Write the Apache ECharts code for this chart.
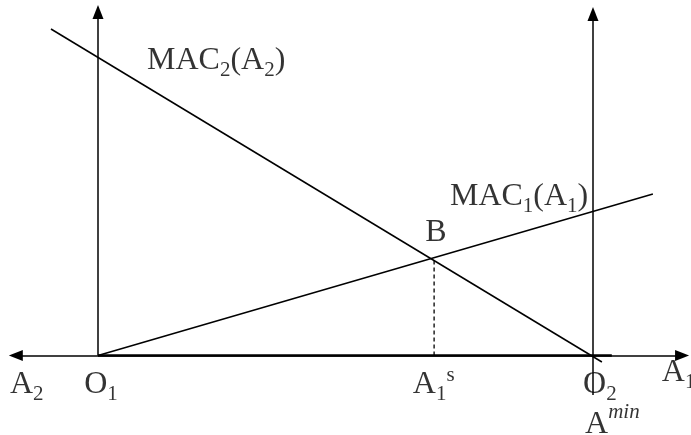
<!DOCTYPE html>
<html>
<head>
<meta charset="utf-8">
<script src="https://cdn.jsdelivr.net/npm/echarts@6/dist/echarts.min.js"></script>
<style>
  html, body { margin: 0; padding: 0; background: #fff; }
  #chart { width: 691px; height: 435px; }
</style>
</head>
<body>
<div id="chart"></div>
<script>
// O1 sits at x = 0, O2 (A min) at x = 100, the A axis at y = 0
const mac1Line = [[0, 0], [112.1, 32.3]];
const mac2Line = [[-9.5, 65.3], [101.8, -1.3]];
const pointB = [67.9, 19.3];
const o2X = 100;
const horizAxisEnds = [-16.6, 118.0];
const thickSegment = [0, 103.8];
const leftAxisTop = 68.7;
const rightAxisTop = 68.3;
const rightAxisBottom = -7.9;

const labelTexts = [
  "{t|MAC}{sub|2}{t|(A}{sub|2}{t|)}",
  "{t|MAC}{sub|1}{t|(A}{sub|1}{t|)}",
  "{t|B}",
  "{t|A}{sub|2}",
  "{t|O}{sub|1}",
  "{t|A}{sub|1}{sup|s}",
  "{t|O}{sub|2}",
  "{tb|A}{it|min}",
  "{t|A}{sub|1}",
];
const labelAnchors = [
  [9.9, 58.9],
  [71.1, 31.7],
  [66.1, 24.5],
  [-17.8, -5.9],
  [-2.8, -5.9],
  [63.6, -5.9],
  [98.0, -5.9],
  [98.4, -13.9],
  [113.9, -3.5],
];

const serif = "'Liberation Serif', 'Times New Roman', serif";
const black = "#000";

const chart = echarts.init(document.getElementById("chart"));

const axisLines = [
  [{ coord: [horizAxisEnds[0], 0] }, { coord: [horizAxisEnds[1], 0] }],
  [{ coord: [0, 0], symbol: "none" }, { coord: [0, leftAxisTop] }],
  [{ coord: [o2X, rightAxisBottom], symbol: "none" }, { coord: [o2X, rightAxisTop] }],
];

chart.setOption({
  animation: false,
  backgroundColor: "#fff",
  grid: { left: 0, right: 0, top: 0, bottom: 0 },
  xAxis: { type: "value", min: -19.8, max: 119.8, show: false },
  yAxis: { type: "value", min: -15.9, max: 71.1, show: false },
  series: [
    {
      name: "axes",
      type: "line",
      data: thickSegment.map((x) => [x, 0]),
      symbol: "none",
      lineStyle: { color: black, width: 2.6 },
      markLine: {
        silent: true,
        symbol: ["triangle", "triangle"],
        symbolSize: [11, 14],
        label: { show: false },
        itemStyle: { color: black },
        lineStyle: { color: black, width: 1.5, type: "solid" },
        data: axisLines,
      },
    },
    {
      name: "MAC2",
      type: "line",
      data: mac2Line,
      symbol: "none",
      lineStyle: { color: black, width: 1.5 },
    },
    {
      name: "MAC1",
      type: "line",
      data: mac1Line,
      symbol: "none",
      lineStyle: { color: black, width: 1.5 },
    },
    {
      name: "A1s",
      type: "line",
      data: [[pointB[0], 0], pointB],
      symbol: "none",
      lineStyle: { color: black, width: 1.3, type: [4, 3] },
    },
    {
      name: "labels",
      type: "scatter",
      symbolSize: 0,
      data: labelAnchors.map((at, i) => ({ value: at, text: labelTexts[i] })),
      label: {
        show: true,
        position: [0, 0],
        align: "left",
        verticalAlign: "middle",
        color: black,
        formatter: (p) => p.data.text,
        rich: {
          t: { fontFamily: serif, fontSize: 32, color: black, lineHeight: 40 },
          tb: { fontFamily: serif, fontSize: 32, color: black, lineHeight: 46 },
          sub: { fontFamily: serif, fontSize: 21, color: black, verticalAlign: "bottom" },
          sup: { fontFamily: serif, fontSize: 21, color: black, verticalAlign: "top" },
          it: { fontFamily: serif, fontSize: 21, fontStyle: "italic", color: black, verticalAlign: "top" },
        },
      },
    },
  ],
});
</script>
</body>
</html>
